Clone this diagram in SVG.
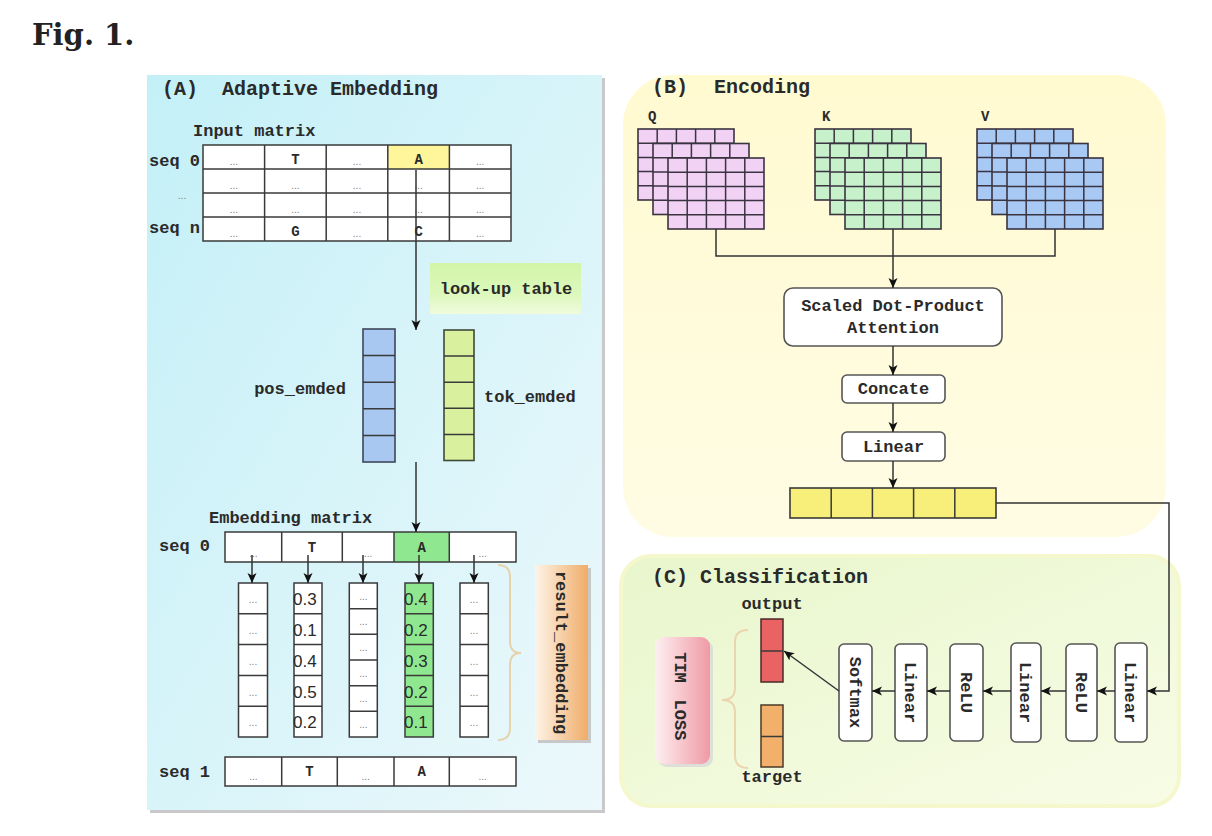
<svg xmlns="http://www.w3.org/2000/svg" width="1212" height="836" viewBox="0 0 1212 836">
<defs>
<style>
.m{font-family:"Liberation Mono","DejaVu Sans Mono",monospace;font-weight:bold;fill:#2a2a2a}
.s13{font-size:13px}
.s14{font-size:14px}
.s17{font-size:17px}
.s20{font-size:20px}
.c{text-anchor:middle}
.e{text-anchor:end}
.d{font-family:"Liberation Sans",Arial,sans-serif;font-size:10px;fill:#808080;text-anchor:middle}
.v{font-family:"Liberation Sans",Arial,sans-serif;font-size:17px;fill:#2a2a2a}
.cell{fill:#fff;stroke:#3a3a3a;stroke-width:1.5}
.gr{fill:none;stroke:#3a3a3a;stroke-width:1.5}
.ln{fill:none;stroke:#333;stroke-width:1.5}
.ar{marker-end:url(#ah)}
.gl{fill:none;stroke:#3a3340;stroke-width:1.5}
.box{fill:#fff;stroke:#555;stroke-width:1.6}
</style>
<marker id="ah" viewBox="0 0 10 10" refX="10" refY="5" markerWidth="10" markerHeight="10" markerUnits="userSpaceOnUse" orient="auto"><path d="M0,0.5 L10,5 L0,9.5 L2.5,5 z" fill="#111"/></marker>
<linearGradient id="gA" x1="0" y1="0" x2="1" y2="1"><stop offset="0" stop-color="#c3f0f7"/><stop offset="1" stop-color="#ecf8fb"/></linearGradient>
<linearGradient id="gB" x1="0" y1="0" x2="0" y2="1"><stop offset="0" stop-color="#fffad0"/><stop offset="1" stop-color="#fffce4"/></linearGradient>
<linearGradient id="gC" x1="0" y1="0" x2="1" y2="1"><stop offset="0" stop-color="#e8f6cc"/><stop offset="1" stop-color="#f8fce6"/></linearGradient>
<linearGradient id="gLT" x1="0" y1="0" x2="0" y2="1"><stop offset="0" stop-color="#d2f5a8"/><stop offset="0.6" stop-color="#dcf8bc"/><stop offset="1" stop-color="#f0fbdc"/></linearGradient>
<linearGradient id="gRE" x1="0" y1="0" x2="1" y2="0"><stop offset="0" stop-color="#fdf4e8"/><stop offset="1" stop-color="#f0ac68"/></linearGradient>
<linearGradient id="gTL" x1="0" y1="0" x2="1" y2="0"><stop offset="0" stop-color="#fdf0f2"/><stop offset="1" stop-color="#f09aa4"/></linearGradient>
<g id="lay"><rect width="96" height="71" stroke="#3a3340" stroke-width="1.6"/><path class="gl" d="M19.2,0V71M38.4,0V71M57.6,0V71M76.8,0V71M0,14.2H96M0,28.4H96M0,42.6H96M0,56.8H96"/></g>
</defs>

<rect width="1212" height="836" fill="#fff"/>
<text x="32" y="45" font-family="'DejaVu Serif','Liberation Serif',serif" font-weight="bold" font-size="29" fill="#222">Fig. 1.</text>

<!-- Panels -->
<g id="panelA">
<rect x="150" y="78" width="455" height="735" fill="#c9c9c9"/>
<rect x="147" y="75" width="455" height="735" fill="url(#gA)"/>
<text class="m s20" x="162" y="95">(A)</text>
<text class="m s20" x="222" y="95">Adaptive Embedding</text>
</g>
<g id="panelB">
<rect x="623" y="75" width="543" height="462" rx="50" fill="url(#gB)"/>
<text class="m s20" x="652" y="93">(B)</text>
<text class="m s20" x="714" y="93">Encoding</text>
</g>
<g id="panelC">
<rect x="621" y="556" width="558" height="250" rx="30" fill="url(#gC)" stroke="#f5f7cc" stroke-width="4"/>
<text class="m s20" x="652" y="583">(C) Classification</text>
</g>

<!-- Input matrix -->
<g id="input-matrix">
<text class="m s17" x="193" y="136">Input matrix</text>
<rect x="203" y="145" width="308" height="96" fill="#fff"/>
<rect x="387.8" y="145" width="61.6" height="24" fill="#fff59a"/>
<rect x="203" y="145" width="308" height="96" class="gr"/>
<path class="gr" d="M264.6,145V241M326.2,145V241M387.8,145V241M449.4,145V241M203,169H511M203,193H511M203,217H511"/>
<text class="m s17 e" x="200" y="166">seq 0</text>
<text class="d" x="182" y="199">...</text>
<text class="m s17 e" x="200" y="233">seq n</text>
<text class="d" x="233.8" y="165">...</text><text class="m s14 c" x="295.4" y="164">T</text><text class="d" x="357" y="165">...</text><text class="m s14 c" x="418.6" y="164">A</text><text class="d" x="480.2" y="165">...</text>
<text class="d" x="233.8" y="189">...</text><text class="d" x="295.4" y="189">...</text><text class="d" x="357" y="189">...</text><text class="d" x="418.6" y="189">...</text><text class="d" x="480.2" y="189">...</text>
<text class="d" x="233.8" y="213">...</text><text class="d" x="295.4" y="213">...</text><text class="d" x="357" y="213">...</text><text class="d" x="418.6" y="213">...</text><text class="d" x="480.2" y="213">...</text>
<text class="d" x="233.8" y="237">...</text><text class="m s14 c" x="295.4" y="236">G</text><text class="d" x="357" y="237">...</text><text class="m s14 c" x="418.6" y="236">C</text><text class="d" x="480.2" y="237">...</text>
</g>

<g id="lookup-table">
<rect x="430" y="263" width="151" height="51" fill="url(#gLT)"/>
<text class="m s17 c" x="506" y="294">look-up table</text>
</g>

<g id="pos-emded">
<rect x="363" y="329" width="32" height="133" fill="#a9c8f1" stroke="#3e4658" stroke-width="1.6"/>
<path class="gr" d="M363,355.6H395M363,382.2H395M363,408.8H395M363,435.4H395"/>
<text class="m s17 e" x="346" y="394">pos_emded</text>
</g>
<g id="tok-emded">
<rect x="444" y="330" width="30" height="130.5" fill="#d9f19f" stroke="#3e4a38" stroke-width="1.6"/>
<path class="gr" d="M444,356.1H474M444,382.2H474M444,408.3H474M444,434.4H474"/>
<text class="m s17" x="484" y="402">tok_emded</text>
</g>

<g id="embedding-matrix">
<text class="m s17" x="209" y="523">Embedding matrix</text>
<rect x="225" y="532" width="291" height="30" fill="#fff"/>
<rect x="394" y="532" width="55.3" height="30" fill="#8fe88f"/>
<rect x="225" y="532" width="291" height="30" class="gr"/>
<path class="gr" d="M281.7,532V562M342.3,532V562M394,532V562M449.3,532V562"/>
<text class="m s17 e" x="210" y="551">seq 0</text>
<text class="d" x="253.3" y="557">...</text><text class="m s14 c" x="312" y="552">T</text><text class="d" x="368.1" y="557">...</text><text class="m s14 c" x="421.6" y="552">A</text><text class="d" x="482.6" y="557">...</text>
</g>

<g id="result-columns">
<rect x="238.5" y="583" width="29" height="154" class="cell"/>
<path class="gr" d="M238.5,613.8H267.5M238.5,644.6H267.5M238.5,675.4H267.5M238.5,706.2H267.5"/>
<text class="d" x="253" y="603">...</text><text class="d" x="253" y="634">...</text><text class="d" x="253" y="665">...</text><text class="d" x="253" y="696">...</text><text class="d" x="253" y="726">...</text>

<rect x="294" y="583" width="28" height="154" class="cell"/>
<path class="gr" d="M294,613.8H322M294,644.6H322M294,675.4H322M294,706.2H322"/>
<text class="v" x="293" y="605">0.3</text><text class="v" x="293" y="636">0.1</text><text class="v" x="293" y="667">0.4</text><text class="v" x="293" y="698">0.5</text><text class="v" x="293" y="728">0.2</text>

<rect x="349.3" y="583" width="28" height="154" class="cell"/>
<path class="gr" d="M349.3,608.7H377.3M349.3,634.3H377.3M349.3,660H377.3M349.3,685.7H377.3M349.3,711.3H377.3"/>
<text class="d" x="363.3" y="600">...</text><text class="d" x="363.3" y="625">...</text><text class="d" x="363.3" y="651">...</text><text class="d" x="363.3" y="677">...</text><text class="d" x="363.3" y="702">...</text><text class="d" x="363.3" y="728">...</text>

<rect x="405" y="583" width="28.3" height="154" fill="#8fe88f" stroke="#3a3a3a" stroke-width="1.5"/>
<path class="gr" d="M405,613.8H433.3M405,644.6H433.3M405,675.4H433.3M405,706.2H433.3"/>
<text class="v" x="404" y="605">0.4</text><text class="v" x="404" y="636">0.2</text><text class="v" x="404" y="667">0.3</text><text class="v" x="404" y="698">0.2</text><text class="v" x="404" y="728">0.1</text>

<rect x="460" y="583" width="28.3" height="154" class="cell"/>
<path class="gr" d="M460,613.8H488.3M460,644.6H488.3M460,675.4H488.3M460,706.2H488.3"/>
<text class="d" x="474" y="603">...</text><text class="d" x="474" y="634">...</text><text class="d" x="474" y="665">...</text><text class="d" x="474" y="696">...</text><text class="d" x="474" y="726">...</text>
</g>

<g id="result-embedding">
<path d="M498,565 Q510,565 510,577 L510,641 Q510,653 521,653 Q510,653 510,665 L510,728 Q510,740 498,740" fill="none" stroke="#e6d2ac" stroke-width="2"/>
<rect x="538" y="568" width="53" height="175" fill="#c8c8c8"/>
<rect x="535" y="565" width="53" height="175" fill="url(#gRE)"/>
<text class="m s17 c" transform="translate(561.5,652.5) rotate(90)" dy=".35em">result_embedding</text>
</g>

<g id="seq1">
<rect x="225" y="757" width="291" height="29" class="cell"/>
<path class="gr" d="M281.7,757V786M337.3,757V786M394,757V786M449.3,757V786"/>
<text class="m s17 e" x="210" y="777">seq 1</text>
<text class="d" x="253.3" y="780">...</text><text class="m s14 c" x="309.5" y="776">T</text><text class="d" x="365.6" y="780">...</text><text class="m s14 c" x="421.6" y="776">A</text><text class="d" x="482.6" y="780">...</text>
</g>

<!-- Encoding -->
<g id="Q">
<text class="m s14" x="648" y="121">Q</text>
<use href="#lay" x="638" y="129" fill="#f1d2f5"/>
<use href="#lay" x="653" y="143.5" fill="#f1d2f5"/>
<use href="#lay" x="668" y="158" fill="#f1d2f5"/>
</g>
<g id="K">
<text class="m s14" x="822" y="121">K</text>
<use href="#lay" x="815" y="129" fill="#c6f1cb"/>
<use href="#lay" x="830" y="143.5" fill="#c6f1cb"/>
<use href="#lay" x="845" y="158" fill="#c6f1cb"/>
</g>
<g id="V">
<text class="m s14" x="981" y="121">V</text>
<use href="#lay" x="977" y="129" fill="#a8c9f3"/>
<use href="#lay" x="992" y="143.5" fill="#a8c9f3"/>
<use href="#lay" x="1007" y="158" fill="#a8c9f3"/>
</g>
<g id="attention">
<rect x="784" y="288" width="218" height="58" rx="9" class="box"/>
<text class="m s17 c" x="893" y="311">Scaled Dot-Product</text>
<text class="m s17 c" x="893" y="333">Attention</text>
</g>
<g id="concate">
<rect x="842" y="375" width="103" height="28" rx="5" class="box"/>
<text class="m s17 c" x="893.5" y="394">Concate</text>
</g>
<g id="linear-enc">
<rect x="842" y="432" width="103" height="29" rx="5" class="box"/>
<text class="m s17 c" x="893.5" y="452">Linear</text>
</g>
<g id="enc-output">
<rect x="790" y="488" width="206" height="30" fill="#f7ef7a" stroke="#3a3a3a" stroke-width="1.6"/>
<path class="gr" d="M831.2,488V518M872.4,488V518M913.6,488V518M954.8,488V518"/>
</g>

<!-- Classification -->
<g id="softmax"><rect x="839" y="644" width="33" height="97" rx="5" class="box"/><text class="m s17 c" transform="translate(855.5,692.5) rotate(90)" dy=".35em">Softmax</text></g>
<g id="linear3"><rect x="895" y="644" width="32" height="97" rx="5" class="box"/><text class="m s17 c" transform="translate(911,692.5) rotate(90)" dy=".35em">Linear</text></g>
<g id="relu2"><rect x="950" y="644" width="33" height="97" rx="5" class="box"/><text class="m s17 c" transform="translate(966.5,692.5) rotate(90)" dy=".35em">ReLU</text></g>
<g id="linear2"><rect x="1011" y="643" width="30" height="99" rx="5" class="box"/><text class="m s17 c" transform="translate(1026,692.5) rotate(90)" dy=".35em">Linear</text></g>
<g id="relu1"><rect x="1066" y="644" width="31" height="97" rx="5" class="box"/><text class="m s17 c" transform="translate(1081.5,692.5) rotate(90)" dy=".35em">ReLU</text></g>
<g id="linear1"><rect x="1115" y="643" width="32" height="99" rx="5" class="box"/><text class="m s17 c" transform="translate(1131,692.5) rotate(90)" dy=".35em">Linear</text></g>

<g id="output">
<text class="m s17 c" x="772" y="609">output</text>
<rect x="761" y="619" width="22" height="63" fill="#e96363" stroke="#4a2a2a" stroke-width="1.5"/>
<path class="gr" d="M761,651H783"/>
</g>
<g id="target">
<rect x="761" y="705" width="22" height="62" fill="#f2b06b" stroke="#4a3a2a" stroke-width="1.5"/>
<path class="gr" d="M761,736.5H783"/>
<text class="m s17 c" x="772" y="782">target</text>
</g>
<g id="tim-loss">
<path d="M748,630 Q735,630 735,642 L735,688 Q735,700 722,700 Q735,700 735,712 L735,756 Q735,768 748,768" fill="none" stroke="#ebd5ae" stroke-width="2"/>
<rect x="658" y="640" width="55" height="127" rx="9" fill="#d8d8d8" opacity="0.8"/>
<rect x="655" y="637" width="55" height="127" rx="9" fill="url(#gTL)"/>
<text class="m s17 c" transform="translate(681,667.5) rotate(90)" dy=".35em">TIM</text>
<text class="m s17 c" transform="translate(681,720) rotate(90)" dy=".35em">LOSS</text>
</g>

<!-- Connectors -->
<g id="connectors">
<path class="ln ar" d="M416,170V330"/>
<path class="ln ar" d="M416,462V532"/>
<path class="ln ar" d="M252,555V583"/>
<path class="ln ar" d="M308,555V583"/>
<path class="ln ar" d="M363,555V583"/>
<path class="ln ar" d="M419,555V583"/>
<path class="ln ar" d="M474,555V583"/>
<path class="ln" d="M716,229V256H1055V229"/>
<path class="ln ar" d="M893,229V288"/>
<path class="ln ar" d="M893,346V375"/>
<path class="ln ar" d="M893,403V432"/>
<path class="ln ar" d="M893,461V488"/>
<path class="ln ar" d="M996,503H1169V691H1147"/>
<path class="ln ar" d="M1115,691H1097"/>
<path class="ln ar" d="M1066,691H1041"/>
<path class="ln ar" d="M1011,691H983"/>
<path class="ln ar" d="M950,691H927"/>
<path class="ln ar" d="M895,691H872"/>
<path class="ln ar" d="M839,691L784,651"/>
</g>
</svg>
